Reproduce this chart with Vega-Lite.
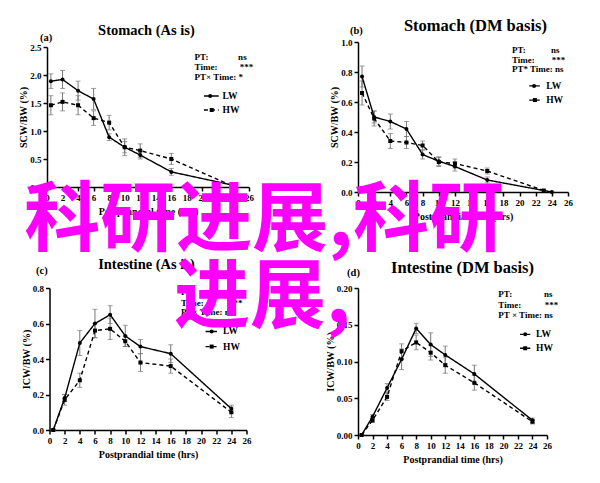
{
  "$schema": "https://vega.github.io/schema/vega-lite/v6.json",
  "padding": {"left": 18, "top": 17, "right": 5, "bottom": 5},
  "config": {
    "view": {"stroke": null},
    "font": "Liberation Serif",
    "axis": {"domainColor": "black", "domainWidth": 1.5, "tickColor": "black", "tickWidth": 1.5, "tickSize": 4, "labelFont": "Liberation Serif", "labelFontWeight": "bold", "labelFontSize": 9, "labelColor": "black", "titleFont": "Liberation Serif", "titleFontWeight": "bold", "titleFontSize": 10, "titleColor": "black", "grid": false, "labelPadding": 2},
    "axisY": {"titlePadding": 1},
    "text": {"font": "Liberation Serif", "fontWeight": "bold", "fontSize": 9, "color": "black"}
  },
  "datasets": {
    "series": [
      {"p":"a","g":"LW","x":0.5,"y":1.89,"e":0.13},
      {"p":"a","g":"LW","x":2,"y":1.92,"e":0.16},
      {"p":"a","g":"LW","x":4,"y":1.72,"e":0.17},
      {"p":"a","g":"LW","x":6,"y":1.57,"e":0.19},
      {"p":"a","g":"LW","x":8,"y":0.89,"e":0.06},
      {"p":"a","g":"LW","x":10,"y":0.71,"e":0.10},
      {"p":"a","g":"LW","x":12,"y":0.57,"e":0.07},
      {"p":"a","g":"LW","x":16,"y":0.27,"e":0.06},
      {"p":"a","g":"LW","x":24,"y":0.03,"e":0.02},
      {"p":"a","g":"HW","x":0.5,"y":1.46,"e":0.17},
      {"p":"a","g":"HW","x":2,"y":1.52,"e":0.16},
      {"p":"a","g":"HW","x":4,"y":1.46,"e":0.17},
      {"p":"a","g":"HW","x":6,"y":1.23,"e":0.13},
      {"p":"a","g":"HW","x":8,"y":1.15,"e":0.13},
      {"p":"a","g":"HW","x":10,"y":0.71,"e":0.15},
      {"p":"a","g":"HW","x":12,"y":0.65,"e":0.12},
      {"p":"a","g":"HW","x":16,"y":0.50,"e":0.10},
      {"p":"a","g":"HW","x":24,"y":0.01,"e":0.02},
      {"p":"b","g":"LW","x":0.5,"y":0.77,"e":0.07},
      {"p":"b","g":"LW","x":2,"y":0.50,"e":0.04},
      {"p":"b","g":"LW","x":4,"y":0.47,"e":0.05},
      {"p":"b","g":"LW","x":6,"y":0.42,"e":0.05},
      {"p":"b","g":"LW","x":8,"y":0.25,"e":0.03},
      {"p":"b","g":"LW","x":10,"y":0.205,"e":0.03},
      {"p":"b","g":"LW","x":12,"y":0.17,"e":0.03},
      {"p":"b","g":"LW","x":16,"y":0.08,"e":0.02},
      {"p":"b","g":"LW","x":24,"y":0.0,"e":0.005},
      {"p":"b","g":"HW","x":0.5,"y":0.66,"e":0.08},
      {"p":"b","g":"HW","x":2,"y":0.49,"e":0.05},
      {"p":"b","g":"HW","x":4,"y":0.34,"e":0.05},
      {"p":"b","g":"HW","x":6,"y":0.33,"e":0.04},
      {"p":"b","g":"HW","x":8,"y":0.31,"e":0.03},
      {"p":"b","g":"HW","x":10,"y":0.20,"e":0.03},
      {"p":"b","g":"HW","x":12,"y":0.19,"e":0.03},
      {"p":"b","g":"HW","x":16,"y":0.14,"e":0.02},
      {"p":"b","g":"HW","x":23,"y":0.01,"e":0.005},
      {"p":"c","g":"LW","x":0.5,"y":0,"e":0},
      {"p":"c","g":"LW","x":2,"y":0.18,"e":0.02},
      {"p":"c","g":"LW","x":4,"y":0.49,"e":0.07},
      {"p":"c","g":"LW","x":6,"y":0.60,"e":0.08},
      {"p":"c","g":"LW","x":8,"y":0.65,"e":0.05},
      {"p":"c","g":"LW","x":10,"y":0.53,"e":0.06},
      {"p":"c","g":"LW","x":12,"y":0.47,"e":0.04},
      {"p":"c","g":"LW","x":16,"y":0.43,"e":0.05},
      {"p":"c","g":"LW","x":24,"y":0.12,"e":0.02},
      {"p":"c","g":"HW","x":0.5,"y":0,"e":0},
      {"p":"c","g":"HW","x":2,"y":0.17,"e":0.03},
      {"p":"c","g":"HW","x":4,"y":0.28,"e":0.04},
      {"p":"c","g":"HW","x":6,"y":0.56,"e":0.04},
      {"p":"c","g":"HW","x":8,"y":0.57,"e":0.06},
      {"p":"c","g":"HW","x":10,"y":0.50,"e":0.03},
      {"p":"c","g":"HW","x":12,"y":0.38,"e":0.05},
      {"p":"c","g":"HW","x":16,"y":0.36,"e":0.04},
      {"p":"c","g":"HW","x":24,"y":0.10,"e":0.03},
      {"p":"d","g":"LW","x":0.5,"y":0,"e":0},
      {"p":"d","g":"LW","x":2,"y":0.025,"e":0.003},
      {"p":"d","g":"LW","x":4,"y":0.064,"e":0.006},
      {"p":"d","g":"LW","x":6,"y":0.103,"e":0.014},
      {"p":"d","g":"LW","x":8,"y":0.145,"e":0.007},
      {"p":"d","g":"LW","x":10,"y":0.123,"e":0.016},
      {"p":"d","g":"LW","x":12,"y":0.109,"e":0.012},
      {"p":"d","g":"LW","x":16,"y":0.083,"e":0.012},
      {"p":"d","g":"LW","x":24,"y":0.020,"e":0.003},
      {"p":"d","g":"HW","x":0.5,"y":0,"e":0},
      {"p":"d","g":"HW","x":2,"y":0.020,"e":0.003},
      {"p":"d","g":"HW","x":4,"y":0.052,"e":0.005},
      {"p":"d","g":"HW","x":6,"y":0.114,"e":0.010},
      {"p":"d","g":"HW","x":8,"y":0.126,"e":0.010},
      {"p":"d","g":"HW","x":10,"y":0.112,"e":0.010},
      {"p":"d","g":"HW","x":12,"y":0.095,"e":0.011},
      {"p":"d","g":"HW","x":16,"y":0.071,"e":0.010},
      {"p":"d","g":"HW","x":24,"y":0.018,"e":0.003}
    ],
    "notes": [
      {"p":"a","k":"tt","x":12.8,"y":2.786,"t":"Stomach (As is)"},
      {"p":"a","k":"lab","x":-0.9,"y":2.66,"t":"(a)"},
      {"p":"a","k":"st","x":19.0,"y":2.32,"t":"PT:"},
      {"p":"a","k":"st","x":24.6,"y":2.32,"t":"ns"},
      {"p":"a","k":"st","x":19.0,"y":2.14,"t":"Time:"},
      {"p":"a","k":"st","x":24.8,"y":2.14,"t":"***"},
      {"p":"a","k":"st","x":19.0,"y":1.96,"t":"PT× Time: *"},
      {"p":"a","k":"lgl","g":"LW","x":20.2,"x2":22.1,"y":1.625},
      {"p":"a","k":"lgl","g":"HW","x":20.2,"x2":22.1,"y":1.375},
      {"p":"a","k":"lgp","g":"LW","x":21.0,"y":1.625},
      {"p":"a","k":"lgp","g":"HW","x":21.2,"y":1.375},
      {"p":"a","k":"lg","x":22.6,"y":1.625,"t":"LW"},
      {"p":"a","k":"lg","x":22.6,"y":1.375,"t":"HW"},
      {"p":"b","k":"tt","x":14.54,"y":1.107,"t":"Stomach (DM basis)"},
      {"p":"b","k":"lab","x":-1.0,"y":1.073,"t":"(b)"},
      {"p":"b","k":"st","x":19.06,"y":0.947,"t":"PT:"},
      {"p":"b","k":"st","x":23.9,"y":0.947,"t":"ns"},
      {"p":"b","k":"st","x":19.06,"y":0.88,"t":"Time:"},
      {"p":"b","k":"st","x":24.0,"y":0.88,"t":"***"},
      {"p":"b","k":"st","x":19.06,"y":0.82,"t":"PT* Time: ns"},
      {"p":"b","k":"lgl","g":"LW","x":21.2,"x2":22.5,"y":0.707},
      {"p":"b","k":"lgl","g":"HW","x":21.2,"x2":22.5,"y":0.613},
      {"p":"b","k":"lgp","g":"LW","x":21.8,"y":0.707},
      {"p":"b","k":"lgp","g":"HW","x":21.9,"y":0.613},
      {"p":"b","k":"lg","x":23.3,"y":0.707,"t":"LW"},
      {"p":"b","k":"lg","x":23.3,"y":0.613,"t":"HW"},
      {"p":"c","k":"tt","x":12.8,"y":0.927,"t":"Intestine (As is)"},
      {"p":"c","k":"lab","x":-1.78,"y":0.893,"t":"(c)"},
      {"p":"c","k":"st","x":17.35,"y":0.78,"t":"PT:"},
      {"p":"c","k":"st","x":23.7,"y":0.78,"t":"ns"},
      {"p":"c","k":"st","x":17.35,"y":0.718,"t":"Time:"},
      {"p":"c","k":"st","x":23.7,"y":0.718,"t":"***"},
      {"p":"c","k":"st","x":17.35,"y":0.662,"t":"PT× Time: ns"},
      {"p":"c","k":"lgl","g":"LW","x":20.6,"x2":22.1,"y":0.555},
      {"p":"c","k":"lgl","g":"HW","x":20.6,"x2":22.1,"y":0.47},
      {"p":"c","k":"lgp","g":"LW","x":21.4,"y":0.555},
      {"p":"c","k":"lgp","g":"HW","x":21.4,"y":0.47},
      {"p":"c","k":"lg","x":22.9,"y":0.555,"t":"LW"},
      {"p":"c","k":"lg","x":22.9,"y":0.47,"t":"HW"},
      {"p":"d","k":"tt","x":14.37,"y":0.2272,"t":"Intestine (DM basis)"},
      {"p":"d","k":"lab","x":-1.5,"y":0.22,"t":"(d)"},
      {"p":"d","k":"st","x":19.3,"y":0.192,"t":"PT:"},
      {"p":"d","k":"st","x":25.6,"y":0.192,"t":"ns"},
      {"p":"d","k":"st","x":19.3,"y":0.177,"t":"Time:"},
      {"p":"d","k":"st","x":25.7,"y":0.177,"t":"***"},
      {"p":"d","k":"st","x":19.3,"y":0.163,"t":"PT × Time: ns"},
      {"p":"d","k":"lgl","g":"LW","x":22.3,"x2":23.7,"y":0.137},
      {"p":"d","k":"lgl","g":"HW","x":22.3,"x2":23.7,"y":0.118},
      {"p":"d","k":"lgp","g":"LW","x":23.0,"y":0.137},
      {"p":"d","k":"lgp","g":"HW","x":23.0,"y":0.118},
      {"p":"d","k":"lg","x":24.5,"y":0.137,"t":"LW"},
      {"p":"d","k":"lg","x":24.5,"y":0.118,"t":"HW"},
      {"p":"d","k":"wm","x":-45.9,"y":0.2898,"t":"科研进展,科研"},
      {"p":"d","k":"wm","x":-25.3,"y":0.1844,"t":"进展,"}
    ]
  },
  "columns": 2,
  "spacing": {"row": 96, "column": 109},
  "bounds": "flush",
  "center": true,
  "concat": [
    {
      "width": 202, "height": 140,
      "encoding": {
        "x": {"field": "x", "type": "quantitative", "scale": {"domain": [0, 26], "nice": false}, "axis": {"values": [0,2,4,6,8,10,12,14,16,18,20,22,24,26], "labelFlush": false, "labelOverlap": false, "title": "Postprandial time (hrs)"}},
        "y": {"field": "y", "type": "quantitative", "scale": {"domain": [0, 2.5], "nice": false}, "axis": {"values": [0,0.5,1,1.5,2,2.5], "format": ".1f", "labelFlush": false, "labelOverlap": false, "title": "SCW/BW (%)"}}
      },
      "layer": [
        {"data": {"name": "series"}, "transform": [{"filter": "datum.p == 'a'"}], "mark": {"type": "errorbar", "color": "#777", "thickness": 1, "ticks": {"size": 5, "thickness": 1}}, "encoding": {"yError": {"field": "e"}}},
        {"data": {"name": "series"}, "transform": [{"filter": "datum.p == 'a'"}], "mark": {"type": "line", "color": "black", "strokeWidth": 1.4}, "encoding": {"strokeDash": {"field": "g", "type": "nominal", "scale": {"domain": ["LW","HW"], "range": [[1,0],[4,3]]}, "legend": null}}},
        {"data": {"name": "series"}, "transform": [{"filter": "datum.p == 'a'"}], "mark": {"type": "point", "filled": true, "color": "black", "opacity": 1, "size": 16}, "encoding": {"shape": {"field": "g", "type": "nominal", "scale": {"domain": ["LW","HW"], "range": ["circle","square"]}, "legend": null}}},
        {"data": {"name": "notes"}, "transform": [{"filter": "datum.p == 'a' && datum.k == 'tt'"}], "mark": {"type": "text", "align": "center", "baseline": "middle", "fontSize": 14.5}, "encoding": {"text": {"field": "t"}}},
        {"data": {"name": "notes"}, "transform": [{"filter": "datum.p == 'a' && datum.k == 'lab'"}], "mark": {"type": "text", "align": "left", "baseline": "middle", "fontSize": 10.5}, "encoding": {"text": {"field": "t"}}},
        {"data": {"name": "notes"}, "transform": [{"filter": "datum.p == 'a' && datum.k == 'st'"}], "mark": {"type": "text", "align": "left", "baseline": "middle"}, "encoding": {"text": {"field": "t"}}},
        {"data": {"name": "notes"}, "transform": [{"filter": "datum.p == 'a' && datum.k == 'lgl'"}], "mark": {"type": "rule", "color": "black", "strokeWidth": 1.3}, "encoding": {"x2": {"field": "x2"}, "strokeDash": {"field": "g", "type": "nominal", "scale": {"domain": ["LW","HW"], "range": [[1,0],[3,2]]}, "legend": null}}},
        {"data": {"name": "notes"}, "transform": [{"filter": "datum.p == 'a' && datum.k == 'lgp'"}], "mark": {"type": "point", "filled": true, "color": "black", "opacity": 1, "size": 16}, "encoding": {"shape": {"field": "g", "type": "nominal", "scale": {"domain": ["LW","HW"], "range": ["circle","square"]}, "legend": null}}},
        {"data": {"name": "notes"}, "transform": [{"filter": "datum.p == 'a' && datum.k == 'lg'"}], "mark": {"type": "text", "align": "left", "baseline": "middle", "fontSize": 9.5}, "encoding": {"text": {"field": "t"}}}
      ]
    },
    {
      "width": 210, "height": 150,
      "encoding": {
        "x": {"field": "x", "type": "quantitative", "scale": {"domain": [0, 26], "nice": false}, "axis": {"values": [0,2,4,6,8,10,12,14,16,18,20,22,24,26], "labelFlush": false, "labelOverlap": false, "title": "Postprandial time (hrs)"}},
        "y": {"field": "y", "type": "quantitative", "scale": {"domain": [0, 1], "nice": false}, "axis": {"values": [0,0.2,0.4,0.6,0.8,1], "format": ".1f", "labelFlush": false, "labelOverlap": false, "title": "SCW/BW (%)"}}
      },
      "layer": [
        {"data": {"name": "series"}, "transform": [{"filter": "datum.p == 'b'"}], "mark": {"type": "errorbar", "color": "#777", "thickness": 1, "ticks": {"size": 5, "thickness": 1}}, "encoding": {"yError": {"field": "e"}}},
        {"data": {"name": "series"}, "transform": [{"filter": "datum.p == 'b'"}], "mark": {"type": "line", "color": "black", "strokeWidth": 1.4}, "encoding": {"strokeDash": {"field": "g", "type": "nominal", "scale": {"domain": ["LW","HW"], "range": [[1,0],[4,3]]}, "legend": null}}},
        {"data": {"name": "series"}, "transform": [{"filter": "datum.p == 'b'"}], "mark": {"type": "point", "filled": true, "color": "black", "opacity": 1, "size": 16}, "encoding": {"shape": {"field": "g", "type": "nominal", "scale": {"domain": ["LW","HW"], "range": ["circle","square"]}, "legend": null}}},
        {"data": {"name": "notes"}, "transform": [{"filter": "datum.p == 'b' && datum.k == 'tt'"}], "mark": {"type": "text", "align": "center", "baseline": "middle", "fontSize": 16.5}, "encoding": {"text": {"field": "t"}}},
        {"data": {"name": "notes"}, "transform": [{"filter": "datum.p == 'b' && datum.k == 'lab'"}], "mark": {"type": "text", "align": "left", "baseline": "middle", "fontSize": 10.5}, "encoding": {"text": {"field": "t"}}},
        {"data": {"name": "notes"}, "transform": [{"filter": "datum.p == 'b' && datum.k == 'st'"}], "mark": {"type": "text", "align": "left", "baseline": "middle"}, "encoding": {"text": {"field": "t"}}},
        {"data": {"name": "notes"}, "transform": [{"filter": "datum.p == 'b' && datum.k == 'lgl'"}], "mark": {"type": "rule", "color": "black", "strokeWidth": 1.3}, "encoding": {"x2": {"field": "x2"}, "strokeDash": {"field": "g", "type": "nominal", "scale": {"domain": ["LW","HW"], "range": [[1,0],[3,2]]}, "legend": null}}},
        {"data": {"name": "notes"}, "transform": [{"filter": "datum.p == 'b' && datum.k == 'lgp'"}], "mark": {"type": "point", "filled": true, "color": "black", "opacity": 1, "size": 16}, "encoding": {"shape": {"field": "g", "type": "nominal", "scale": {"domain": ["LW","HW"], "range": ["circle","square"]}, "legend": null}}},
        {"data": {"name": "notes"}, "transform": [{"filter": "datum.p == 'b' && datum.k == 'lg'"}], "mark": {"type": "text", "align": "left", "baseline": "middle", "fontSize": 9.5}, "encoding": {"text": {"field": "t"}}}
      ]
    },
    {
      "width": 197, "height": 142,
      "encoding": {
        "x": {"field": "x", "type": "quantitative", "scale": {"domain": [0, 26], "nice": false}, "axis": {"values": [0,2,4,6,8,10,12,14,16,18,20,22,24,26], "labelFlush": false, "labelOverlap": false, "title": "Postprandial time (hrs)"}},
        "y": {"field": "y", "type": "quantitative", "scale": {"domain": [0, 0.8], "nice": false}, "axis": {"values": [0,0.2,0.4,0.6,0.8], "format": ".1f", "labelFlush": false, "labelOverlap": false, "title": "ICW/BW (%)"}}
      },
      "layer": [
        {"data": {"name": "series"}, "transform": [{"filter": "datum.p == 'c'"}], "mark": {"type": "errorbar", "color": "#777", "thickness": 1, "ticks": {"size": 5, "thickness": 1}}, "encoding": {"yError": {"field": "e"}}},
        {"data": {"name": "series"}, "transform": [{"filter": "datum.p == 'c'"}], "mark": {"type": "line", "color": "black", "strokeWidth": 1.4}, "encoding": {"strokeDash": {"field": "g", "type": "nominal", "scale": {"domain": ["LW","HW"], "range": [[1,0],[4,3]]}, "legend": null}}},
        {"data": {"name": "series"}, "transform": [{"filter": "datum.p == 'c'"}], "mark": {"type": "point", "filled": true, "color": "black", "opacity": 1, "size": 16}, "encoding": {"shape": {"field": "g", "type": "nominal", "scale": {"domain": ["LW","HW"], "range": ["circle","square"]}, "legend": null}}},
        {"data": {"name": "notes"}, "transform": [{"filter": "datum.p == 'c' && datum.k == 'tt'"}], "mark": {"type": "text", "align": "center", "baseline": "middle", "fontSize": 14.5}, "encoding": {"text": {"field": "t"}}},
        {"data": {"name": "notes"}, "transform": [{"filter": "datum.p == 'c' && datum.k == 'lab'"}], "mark": {"type": "text", "align": "left", "baseline": "middle", "fontSize": 10.5}, "encoding": {"text": {"field": "t"}}},
        {"data": {"name": "notes"}, "transform": [{"filter": "datum.p == 'c' && datum.k == 'st'"}], "mark": {"type": "text", "align": "left", "baseline": "middle"}, "encoding": {"text": {"field": "t"}}},
        {"data": {"name": "notes"}, "transform": [{"filter": "datum.p == 'c' && datum.k == 'lgl'"}], "mark": {"type": "rule", "color": "black", "strokeWidth": 1.3}, "encoding": {"x2": {"field": "x2"}, "strokeDash": {"field": "g", "type": "nominal", "scale": {"domain": ["LW","HW"], "range": [[1,0],[3,2]]}, "legend": null}}},
        {"data": {"name": "notes"}, "transform": [{"filter": "datum.p == 'c' && datum.k == 'lgp'"}], "mark": {"type": "point", "filled": true, "color": "black", "opacity": 1, "size": 16}, "encoding": {"shape": {"field": "g", "type": "nominal", "scale": {"domain": ["LW","HW"], "range": ["circle","square"]}, "legend": null}}},
        {"data": {"name": "notes"}, "transform": [{"filter": "datum.p == 'c' && datum.k == 'lg'"}], "mark": {"type": "text", "align": "left", "baseline": "middle", "fontSize": 9.5}, "encoding": {"text": {"field": "t"}}}
      ]
    },
    {
      "width": 189, "height": 147,
      "encoding": {
        "x": {"field": "x", "type": "quantitative", "scale": {"domain": [0, 26], "nice": false}, "axis": {"values": [0,2,4,6,8,10,12,14,16,18,20,22,24,26], "labelFlush": false, "labelOverlap": false, "title": "Postprandial time (hrs)"}},
        "y": {"field": "y", "type": "quantitative", "scale": {"domain": [0, 0.2], "nice": false}, "axis": {"values": [0,0.05,0.1,0.15,0.2], "format": ".2f", "labelFlush": false, "labelOverlap": false, "title": "ICW/BW (%)"}}
      },
      "layer": [
        {"data": {"name": "series"}, "transform": [{"filter": "datum.p == 'd'"}], "mark": {"type": "errorbar", "color": "#777", "thickness": 1, "ticks": {"size": 5, "thickness": 1}}, "encoding": {"yError": {"field": "e"}}},
        {"data": {"name": "series"}, "transform": [{"filter": "datum.p == 'd'"}], "mark": {"type": "line", "color": "black", "strokeWidth": 1.4}, "encoding": {"strokeDash": {"field": "g", "type": "nominal", "scale": {"domain": ["LW","HW"], "range": [[1,0],[4,3]]}, "legend": null}}},
        {"data": {"name": "series"}, "transform": [{"filter": "datum.p == 'd'"}], "mark": {"type": "point", "filled": true, "color": "black", "opacity": 1, "size": 16}, "encoding": {"shape": {"field": "g", "type": "nominal", "scale": {"domain": ["LW","HW"], "range": ["circle","square"]}, "legend": null}}},
        {"data": {"name": "notes"}, "transform": [{"filter": "datum.p == 'd' && datum.k == 'tt'"}], "mark": {"type": "text", "align": "center", "baseline": "middle", "fontSize": 16.5}, "encoding": {"text": {"field": "t"}}},
        {"data": {"name": "notes"}, "transform": [{"filter": "datum.p == 'd' && datum.k == 'lab'"}], "mark": {"type": "text", "align": "left", "baseline": "middle", "fontSize": 10.5}, "encoding": {"text": {"field": "t"}}},
        {"data": {"name": "notes"}, "transform": [{"filter": "datum.p == 'd' && datum.k == 'st'"}], "mark": {"type": "text", "align": "left", "baseline": "middle"}, "encoding": {"text": {"field": "t"}}},
        {"data": {"name": "notes"}, "transform": [{"filter": "datum.p == 'd' && datum.k == 'lgl'"}], "mark": {"type": "rule", "color": "black", "strokeWidth": 1.3}, "encoding": {"x2": {"field": "x2"}, "strokeDash": {"field": "g", "type": "nominal", "scale": {"domain": ["LW","HW"], "range": [[1,0],[3,2]]}, "legend": null}}},
        {"data": {"name": "notes"}, "transform": [{"filter": "datum.p == 'd' && datum.k == 'lgp'"}], "mark": {"type": "point", "filled": true, "color": "black", "opacity": 1, "size": 16}, "encoding": {"shape": {"field": "g", "type": "nominal", "scale": {"domain": ["LW","HW"], "range": ["circle","square"]}, "legend": null}}},
        {"data": {"name": "notes"}, "transform": [{"filter": "datum.p == 'd' && datum.k == 'lg'"}], "mark": {"type": "text", "align": "left", "baseline": "middle", "fontSize": 9.5}, "encoding": {"text": {"field": "t"}}},
        {"data": {"name": "notes"}, "transform": [{"filter": "datum.p == 'd' && datum.k == 'wm'"}], "mark": {"type": "text", "align": "left", "baseline": "middle", "font": "Noto Sans CJK SC", "fontWeight": "bold", "fontSize": 76, "color": "#ff00ff"}, "encoding": {"text": {"field": "t"}}}
      ]
    }
  ]
}
